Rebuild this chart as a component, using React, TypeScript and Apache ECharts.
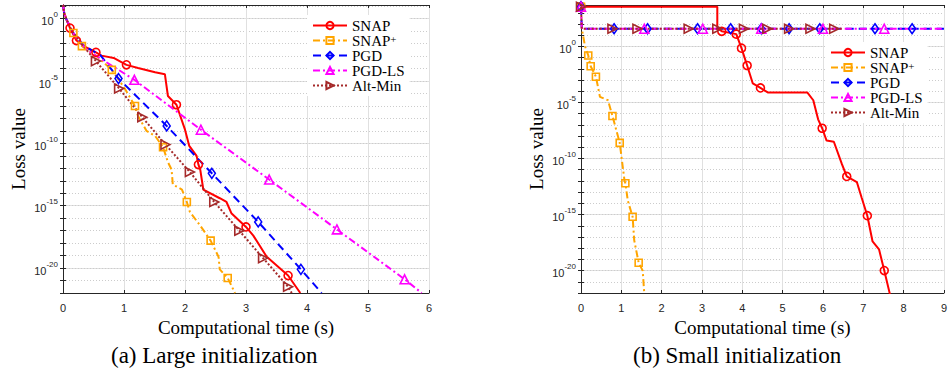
import React, { useEffect, useRef } from "react";
import * as echarts from "echarts";

// Each point: [time (s), log10(loss), marker flag]
const snapA = [[0,1.1,0],[0.02,0.45,0],[0.06,-0.1,0],[0.115,-0.75,1],[0.22,-1.75,1],[0.38,-2.3,0],[0.54,-2.7,1],[0.63,-2.96,0],[0.83,-3.15,0],[1.04,-3.7,1],[1.23,-3.95,0],[1.51,-4.3,0],[1.67,-4.45,0],[1.72,-6.2,0],[1.86,-6.9,1],[2.0,-8.9,0],[2.07,-10.2,0],[2.19,-11.0,0],[2.22,-11.7,1],[2.25,-12.1,0],[2.3,-13.7,0],[2.57,-14.4,0],[2.68,-14.7,0],[2.76,-15.6,0],[3.0,-16.7,1],[3.12,-17.4,0],[3.34,-19.1,0],[3.69,-20.6,1],[3.89,-22.0,0]];
const snapPlusA = [[0,1.1,0],[0.02,0.45,0],[0.06,-0.1,0],[0.17,-1.15,1],[0.31,-2.2,1],[0.55,-3.0,0],[0.8,-4.1,1],[1.0,-5.5,0],[1.18,-7.0,1],[1.23,-7.8,0],[1.37,-9.0,0],[1.51,-9.4,0],[1.64,-10.3,1],[1.72,-11.5,0],[1.78,-12.1,0],[1.8,-13.3,0],[1.95,-13.7,0],[2.03,-14.7,1],[2.08,-15.5,0],[2.25,-16.6,0],[2.42,-17.8,1],[2.55,-19.1,0],[2.57,-20.1,0],[2.7,-20.8,1],[2.82,-22.0,0]];
const pgdA = [[0,1.1,0],[0.02,0.45,0],[0.06,-0.1,0],[0.16,-1.1,0],[0.35,-2.2,0],[0.61,-2.9,0],[0.91,-4.8,1],[1.7,-8.6,1],[2.44,-12.4,1],[3.2,-16.3,1],[3.9,-20.1,1],[4.24,-22.0,0]];
const pgdLsA = [[0,1.1,0],[0.02,0.45,0],[0.06,-0.1,0],[0.2,-1.4,0],[0.39,-2.5,0],[1.17,-4.9,1],[2.26,-8.9,1],[3.38,-12.9,1],[4.49,-16.9,1],[5.6,-20.9,1],[5.88,-22.0,0]];
const altMinA = [[0,1.1,0],[0.02,0.45,0],[0.06,-0.1,0],[0.15,-1.0,0],[0.3,-2.0,0],[0.54,-3.4,1],[0.92,-5.6,1],[1.3,-7.9,1],[1.68,-10.1,1],[2.08,-12.3,1],[2.48,-14.7,1],[2.89,-17.0,1],[3.28,-19.2,1],[3.69,-21.5,1],[3.75,-22.0,0]];

const snapB = [[0,3.55,1],[3.38,3.55,0],[3.38,1.7,0],[3.49,1.35,1],[3.85,1.1,1],[3.98,-0.15,1],[4.12,-1.7,1],[4.26,-3.3,0],[4.45,-3.7,1],[4.63,-4.1,0],[5.61,-4.1,0],[5.76,-4.8,0],[5.88,-6.5,0],[5.98,-7.3,1],[6.09,-8.4,0],[6.27,-8.5,0],[6.47,-10.5,0],[6.59,-11.6,1],[6.84,-12.1,0],[6.96,-13.5,0],[7.1,-15.1,1],[7.23,-17.4,0],[7.39,-18.1,0],[7.52,-20.0,1],[7.66,-22.1,0]];
const snapPlusB = [[0,3.55,1],[0.02,1.6,0],[0.1,0.0,0],[0.18,-0.8,1],[0.24,-1.76,1],[0.37,-2.7,1],[0.47,-4.5,0],[0.67,-4.8,0],[0.78,-6.2,1],[0.96,-8.6,1],[1.08,-12.0,0],[1.1,-12.2,1],[1.16,-13.75,0],[1.28,-15.2,1],[1.32,-17.3,0],[1.43,-19.3,1],[1.53,-20.0,0],[1.57,-22.1,0]];
const pgdB = [[0,3.55,1],[0.02,1.58,0],[0.82,1.58,1],[1.65,1.58,1],[2.89,1.58,1],[3.71,1.58,1],[4.47,1.58,1],[5.16,1.58,1],[5.92,1.58,1],[7.29,1.58,1],[8.21,1.58,1],[9,1.58,0]];
const pgdLsB = [[0,3.55,1],[0.02,1.58,0],[1.57,1.58,1],[3.02,1.58,1],[4.47,1.58,1],[6.0,1.58,1],[7.52,1.58,1],[9,1.58,0]];
const altMinB = [[0,3.55,1],[0.02,1.58,0],[0.78,1.58,1],[1.4,1.58,1],[2.67,1.58,1],[3.38,1.58,1],[4.04,1.58,1],[4.62,1.58,1],[5.16,1.58,1],[5.69,1.58,1],[6.28,1.58,1],[6.5,1.58,0]];

const seriesNames = ["SNAP", "SNAP+", "PGD", "PGD-LS", "Alt-Min"];
const xRangeA = [0, 6];
const xRangeB = [0, 9];
const yRangeA = [-22, 1.1];
const yRangeB = [-22, 3.7];
const captions = ["(a) Large initialization", "(b) Small initialization"];

const styles: any = {
  "SNAP": { color: "#ff0000", dash: "solid", symbol: "circle", size: 8, rotate: 0 },
  "SNAP+": { color: "#ffa500", dash: [7, 3, 2, 3], symbol: "rect", size: 7, rotate: 0 },
  "PGD": { color: "#0000ff", dash: [8, 5], symbol: "diamond", size: [7, 10], rotate: 0 },
  "PGD-LS": { color: "#ff00ff", dash: [7, 3, 2, 3], symbol: "triangle", size: 9, rotate: 0 },
  "Alt-Min": { color: "#a52a2a", dash: [2, 2], symbol: "triangle", size: 9, rotate: -90 },
};

function makeSeries(name: string, pts: number[][], g: number) {
  const s = styles[name];
  return {
    type: "line",
    name,
    xAxisIndex: g * 2,
    yAxisIndex: g * 2,
    data: pts.map(([t, e, m]) => (m ? { value: [t, e] } : { value: [t, e], symbol: "none" })),
    symbol: s.symbol,
    symbolSize: s.size,
    symbolRotate: s.rotate,
    color: s.color,
    lineStyle: { color: s.color, width: 2, type: s.dash },
    itemStyle: { color: "rgba(255,255,255,0)", borderColor: s.color, borderWidth: 1.6 },
    emphasis: { disabled: true },
    clip: true,
  };
}

const axisColor = "#262626";
const transparent = "rgba(0,0,0,0)";

function yLabel(v: number) {
  const r = Math.round(v);
  if (Math.abs(v - r) > 1e-6 || r % 5 !== 0) return "";
  return `{b|10}{s|${r}}`;
}

function yAxes(range: number[], g: number) {
  return [
    {
      type: "value",
      gridIndex: g,
      position: "left",
      min: range[0],
      max: range[1],
      interval: 1,
      axisLine: { show: true, lineStyle: { color: axisColor, width: 1 } },
      axisTick: { show: true, inside: true, length: 3, lineStyle: { color: axisColor } },
      axisLabel: {
        show: true,
        margin: 5,
        formatter: yLabel,
        color: axisColor,
        rich: {
          b: { fontSize: 11, lineHeight: 16, fontFamily: "Liberation Sans", color: axisColor, verticalAlign: "bottom" },
          s: { fontSize: 8, lineHeight: 6, fontFamily: "Liberation Sans", color: axisColor, verticalAlign: "top" },
        },
      },
      splitLine: { show: true, lineStyle: { color: [transparent, transparent, "#e0e0e0", transparent, transparent], width: 1, type: "solid" } },
      name: "Loss value",
      nameLocation: "middle",
      nameGap: 35,
      nameTextStyle: { fontFamily: "Liberation Serif", fontSize: 19, color: "#000" },
    },
    {
      type: "value",
      gridIndex: g,
      position: "right",
      min: range[0],
      max: range[1],
      interval: 1,
      axisLine: { show: true, lineStyle: { color: axisColor, width: 1 } },
      axisTick: { show: true, inside: true, length: 3, lineStyle: { color: axisColor } },
      axisLabel: { show: false },
      splitLine: { show: true, lineStyle: { color: "#cccccc", width: 1, type: [1, 2] } },
    },
  ];
}

function xAxes(range: number[], g: number) {
  return [
    {
      type: "value",
      gridIndex: g,
      position: "bottom",
      min: range[0],
      max: range[1],
      interval: 1,
      axisLine: { show: true, onZero: false, lineStyle: { color: axisColor, width: 1 } },
      axisTick: { show: true, inside: true, length: 3, lineStyle: { color: axisColor } },
      axisLabel: { show: true, margin: 9, fontSize: 11, fontFamily: "Liberation Sans", color: axisColor },
      splitLine: { show: true, lineStyle: { color: "#e0e0e0", width: 1 } },
      name: "Computational time (s)",
      nameLocation: "middle",
      nameGap: 25,
      nameTextStyle: { fontFamily: "Liberation Serif", fontSize: 19, color: "#000", verticalAlign: "top" },
    },
    {
      type: "value",
      gridIndex: g,
      position: "top",
      min: range[0],
      max: range[1],
      interval: 1,
      axisLine: { show: true, onZero: false, lineStyle: { color: axisColor, width: 1 } },
      axisTick: { show: true, inside: true, length: 3, lineStyle: { color: axisColor } },
      axisLabel: { show: false },
      splitLine: { show: false },
    },
  ];
}

function legendFormatter(name: string) {
  if (name === "SNAP+") return "{n|SNAP}{s|+}";
  return `{n|${name}}`;
}

function makeLegend(left: number, top: number) {
  return {
    orient: "vertical",
    left,
    top,
    backgroundColor: "#ffffff",
    padding: [3, 5, 3, 5],
    itemWidth: 34,
    itemHeight: 9,
    itemGap: 0,
    selectedMode: false,
    data: seriesNames,
    formatter: legendFormatter,
    textStyle: {
      color: "#000",
      fontFamily: "Liberation Serif",
      fontSize: 15,
      rich: {
        n: { fontFamily: "Liberation Serif", fontSize: 15, lineHeight: 15, color: "#000" },
        s: { fontFamily: "Liberation Serif", fontSize: 11, lineHeight: 6, color: "#000", verticalAlign: "top" },
      },
    },
  };
}

export default function App() {
  const ref = useRef<HTMLDivElement>(null);
  useEffect(() => {
    if (!ref.current) return;
    const chart = echarts.init(ref.current, null, { renderer: "svg" });
    const dataA = [snapA, snapPlusA, pgdA, pgdLsA, altMinA];
    const dataB = [snapB, snapPlusB, pgdB, pgdLsB, altMinB];
    const option: any = {
      animation: false,
      backgroundColor: "#ffffff",
      grid: [
        { left: 63, right: 521, top: 5, bottom: 86 },
        { left: 581, right: 2, top: 5, bottom: 86 },
      ],
      xAxis: [...xAxes(xRangeA, 0), ...xAxes(xRangeB, 1)],
      yAxis: [...yAxes(yRangeA, 0), ...yAxes(yRangeB, 1)],
      legend: [makeLegend(307, 15), makeLegend(825, 42)],
      series: [
        ...seriesNames.map((n, i) => makeSeries(n, dataA[i], 0)),
        ...seriesNames.map((n, i) => makeSeries(n, dataB[i], 1)),
      ],
      graphic: [
        { type: "text", left: 111, top: 344, style: { text: captions[0], font: '23px "Liberation Serif"', fill: "#000" } },
        { type: "text", left: 633, top: 344, style: { text: captions[1], font: '23px "Liberation Serif"', fill: "#000" } },
      ],
    };
    chart.setOption(option);
    return () => chart.dispose();
  }, []);
  return <div ref={ref} style={{ position: "absolute", left: 0, top: 0, width: 950, height: 379 }} />;
}
